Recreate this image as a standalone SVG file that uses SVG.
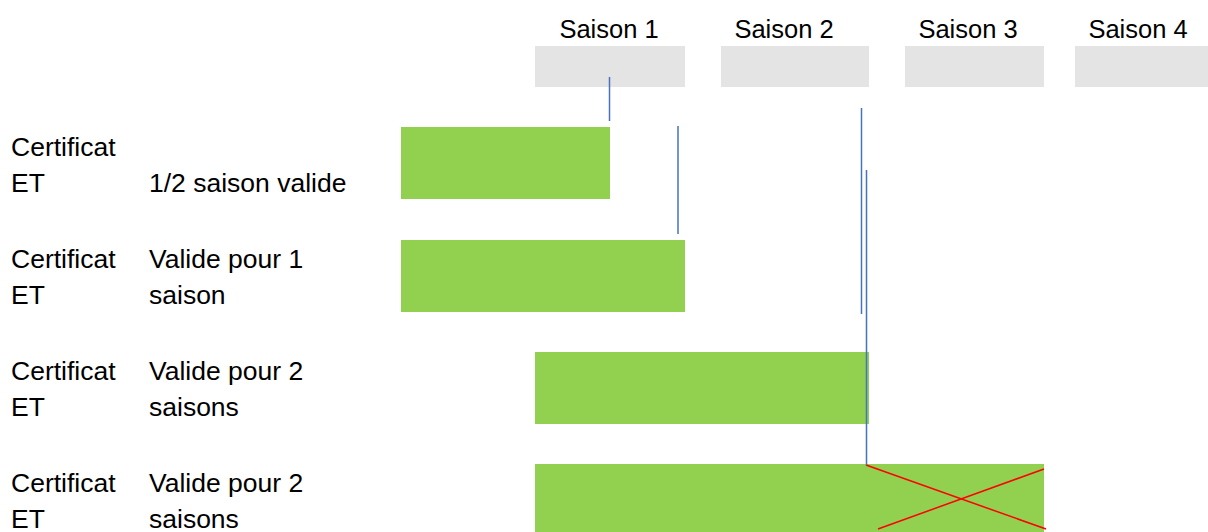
<svg xmlns="http://www.w3.org/2000/svg" width="1208" height="532" viewBox="0 0 1208 532">
<style>
text{font-family:"Liberation Sans",Arial,sans-serif;font-size:26.5px;fill:#000}
.hdr{text-anchor:middle;font-size:25.5px}
.box{fill:#e4e4e4}
.bar{fill:#92d050}
.vl{stroke:#4472c4;stroke-width:1.5;fill:none}
.x{stroke:#ff0000;stroke-width:1.5;fill:none}
</style>
<rect width="1208" height="532" fill="#ffffff"/>
<g id="season1"><text class="hdr" x="609" y="38">Saison 1</text><rect class="box" x="535" y="46" width="150" height="41"/></g>
<g id="season2"><text class="hdr" x="784" y="38">Saison 2</text><rect class="box" x="721" y="46" width="148" height="41"/></g>
<g id="season3"><text class="hdr" x="968" y="38">Saison 3</text><rect class="box" x="905" y="46" width="139" height="41"/></g>
<g id="season4"><text class="hdr" x="1138" y="38">Saison 4</text><rect class="box" x="1075" y="46" width="133" height="41"/></g>
<g id="row1"><text x="11" y="156">Certificat</text><text x="11" y="192">ET</text><text x="149" y="192">1/2 saison valide</text><rect class="bar" x="401" y="127" width="209" height="72"/></g>
<g id="row2"><text x="11" y="268">Certificat</text><text x="11" y="304">ET</text><text x="149" y="268">Valide pour 1</text><text x="149" y="304">saison</text><rect class="bar" x="401" y="240" width="284" height="72"/></g>
<g id="row3"><text x="11" y="380">Certificat</text><text x="11" y="416">ET</text><text x="149" y="380">Valide pour 2</text><text x="149" y="416">saisons</text><rect class="bar" x="535" y="352" width="334" height="72"/></g>
<g id="row4"><text x="11" y="492">Certificat</text><text x="11" y="528">ET</text><text x="149" y="492">Valide pour 2</text><text x="149" y="528">saisons</text><rect class="bar" x="535" y="464" width="509" height="68"/>
<line class="x" x1="866" y1="465" x2="1046" y2="529"/><line class="x" x1="878" y1="529" x2="1044" y2="469"/></g>
<g id="connectors">
<line class="vl" x1="609.5" y1="77" x2="609.5" y2="121"/>
<line class="vl" x1="678" y1="126" x2="678" y2="234"/>
<line class="vl" x1="861.5" y1="108" x2="861.5" y2="314"/>
<line class="vl" x1="866.5" y1="170" x2="866.5" y2="465"/>
</g>
</svg>
